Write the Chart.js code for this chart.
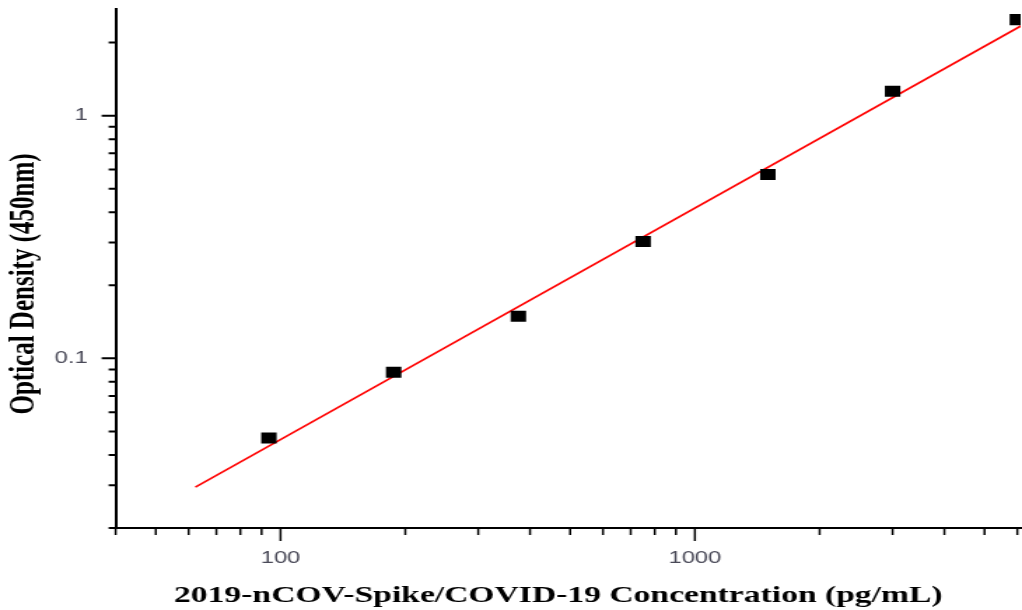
<!DOCTYPE html>
<html>
<head>
<meta charset="utf-8">
<script src="https://cdn.jsdelivr.net/npm/chart.js@4.4.1/dist/chart.umd.min.js"></script>
<style>
html, body { margin: 0; padding: 0; background: #fff; overflow: hidden; }
</style>
</head>
<body>
<!-- the original picture is stretched sideways, so the canvas is drawn narrow and scaled up -->
<canvas id="stdCurve" width="730" height="610" style="display:block;width:1022px;height:610px"></canvas>
<script>
let concentration = [93.75, 187.5, 375, 750, 1500, 3000, 6000]
let opticalDensity = [0.047, 0.0876, 0.149, 0.303, 0.572, 1.26, 2.486]
let fitX = [62.3, 6150]
let fitY = [0.0295, 2.352]
let xTicks = [40, 50, 60, 70, 80, 90, 100, 200, 300, 400, 500, 600, 700, 800, 900, 1000, 2000, 3000, 4000, 5000, 6000]
let xLabels = [100, 1000]
let yTicks = [0.02, 0.03, 0.04, 0.05, 0.06, 0.07, 0.08, 0.09, 0.1, 0.2, 0.3, 0.4, 0.5, 0.6, 0.7, 0.8, 0.9, 1, 2]
let yLabels = [0.1, 1]
let xTitle = "2019-nCOV-Spike/COVID-19 Concentration (pg/mL)"
let yTitle = "Optical Density (450nm)"

let labelColor = "#4a4a58"
let labelFont = { family: "Liberation Sans", size: 17 }

// tick marks of two lengths and the two axis titles
let axisDecor = {
    id: "axisDecor",
    afterDraw(chart) {
        let ctx = chart.ctx
        let x = chart.scales.x
        let y = chart.scales.y
        ctx.save()
        ctx.strokeStyle = "#000"
        ctx.lineWidth = 1.5
        ctx.beginPath()
        xTicks.forEach(v => {
            let px = x.getPixelForValue(v)
            let len = xLabels.includes(v) ? 13 : 7
            ctx.moveTo(px, x.top)
            ctx.lineTo(px, x.top + len)
        })
        ctx.stroke()
        ctx.lineWidth = 2
        ctx.beginPath()
        yTicks.forEach(v => {
            let py = y.getPixelForValue(v)
            let len = yLabels.includes(v) ? 10 : 5
            ctx.moveTo(y.right, py)
            ctx.lineTo(y.right - len, py)
        })
        ctx.stroke()

        let area = chart.chartArea
        ctx.fillStyle = "#000"
        ctx.font = "bold 24px 'Liberation Serif'"
        ctx.textAlign = "center"
        ctx.textBaseline = "alphabetic"
        ctx.fillText(xTitle, (area.left + area.right) / 2 - 7, 602)
        ctx.translate(24, 284)
        ctx.rotate(-Math.PI / 2)
        ctx.font = "bold 25px 'Liberation Serif'"
        ctx.fillText(yTitle, 0, 0)
        ctx.restore()
    }
}

let CHART = document.getElementById("stdCurve")
let stdChart = new Chart(CHART, {
    type: "scatter",
    data: {
        datasets: [
            {
                label: "fit",
                data: fitX.map((v, i) => ({ x: v, y: fitY[i] })),
                showLine: true,
                borderColor: "#ff0000",
                borderWidth: 1.6,
                pointRadius: 0,
                fill: false,
                order: 2
            },
            {
                label: "standards",
                data: concentration.map((v, i) => ({ x: v, y: opticalDensity[i] })),
                pointStyle: "rect",
                pointRadius: 7.8,
                backgroundColor: "#000",
                borderColor: "#000",
                borderWidth: 0,
                order: 1
            }
        ]
    },
    options: {
        responsive: false,
        devicePixelRatio: 1,
        animation: false,
        layout: { autoPadding: false, padding: { top: 9, right: 1, left: 0, bottom: 0 } },
        plugins: {
            legend: { display: false },
            tooltip: { enabled: false }
        },
        scales: {
            x: {
                type: "logarithmic",
                min: 40,
                max: 6110,
                afterBuildTicks: s => { s.ticks = xTicks.map(v => ({ value: v })) },
                afterFit: s => { s.height = 82; s.paddingLeft = 0; s.paddingRight = 0 },
                ticks: {
                    autoSkip: false,
                    maxRotation: 0,
                    padding: 7,
                    color: labelColor,
                    font: labelFont,
                    callback: v => xLabels.includes(v) ? String(v) : ""
                },
                grid: { drawOnChartArea: false, tickLength: 13, tickColor: "rgba(0,0,0,0)" },
                border: { color: "#000", width: 2 }
            },
            y: {
                type: "logarithmic",
                min: 0.02,
                max: 2.75,
                afterBuildTicks: s => { s.ticks = yTicks.map(v => ({ value: v })) },
                afterFit: s => { s.width = 82.6; s.paddingTop = 0; s.paddingBottom = 0 },
                ticks: {
                    autoSkip: false,
                    padding: 10,
                    color: labelColor,
                    font: labelFont,
                    callback: v => yLabels.includes(v) ? String(v) : ""
                },
                grid: { drawOnChartArea: false, tickLength: 10, tickColor: "rgba(0,0,0,0)" },
                border: { color: "#000", width: 2 }
            }
        }
    },
    plugins: [axisDecor]
})
</script>
</body>
</html>
